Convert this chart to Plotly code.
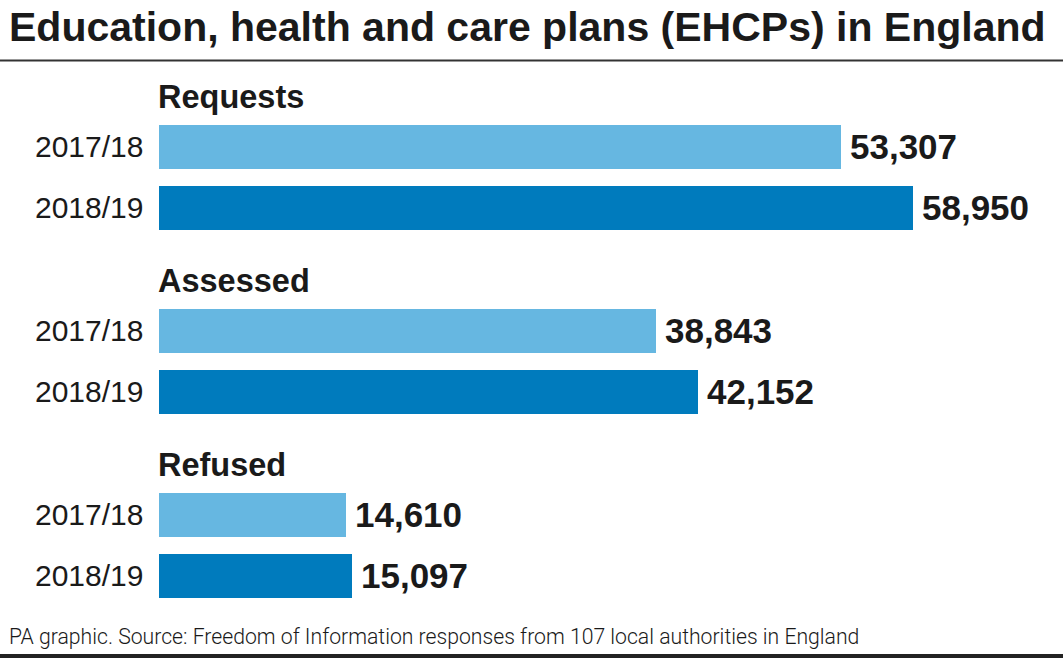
import plotly.graph_objects as go

groups = ["Requests", "Assessed", "Refused"]
years = ["2017/18", "2018/19"]
values = {
    "Requests": [53307, 58950],
    "Assessed": [38843, 42152],
    "Refused": [14610, 15097],
}
year_colors = ["#66b7e1", "#007bbd"]

title = "Education, health and care plans (EHCPs) in England"
source = "PA graphic. Source: Freedom of Information responses from 107 local authorities in England"

W, H = 1063, 658
first_bar = 146.5
group_step = 184
bar_step = 61
bar_h = 44
header_off = 50
xmax = 70680
txt = "#1a1a1a"
font = "Liberation Sans"

fig = go.Figure()
for yi, yr in enumerate(years):
    ys, xs = [], []
    for gi, g in enumerate(groups):
        ys.append(first_bar + gi * group_step + yi * bar_step)
        xs.append(values[g][yi])
    fig.add_trace(go.Bar(
        x=xs, y=ys, orientation="h", width=bar_h,
        marker=dict(color=year_colors[yi], line=dict(width=0)),
        hoverinfo="skip", showlegend=False,
    ))
    for x, y in zip(xs, ys):
        fig.add_annotation(x=x, y=y, text=f"{x:,}", showarrow=False,
                           xanchor="left", yanchor="middle", xshift=7,
                           font=dict(family=font, size=35, color=txt, weight="bold"))
        fig.add_annotation(x=0, y=y, text=yr, showarrow=False,
                           xanchor="right", yanchor="middle", xshift=-14,
                           font=dict(family=font, size=30, color=txt))

for gi, g in enumerate(groups):
    fig.add_annotation(x=0, y=first_bar + gi * group_step - header_off, text=g,
                       showarrow=False, xanchor="left", yanchor="middle", xshift=-3,
                       font=dict(family=font, size=32.5, color=txt, weight="bold"))

fig.add_annotation(xref="paper", yref="paper", x=7 / W, y=1 - 27 / H, text=title,
                   showarrow=False, xanchor="left", yanchor="middle",
                   font=dict(family=font, size=41, color=txt, weight="bold"))
fig.add_annotation(xref="paper", yref="paper", x=7 / W, y=1 - 636 / H, text=source,
                   showarrow=False, xanchor="left", yanchor="middle",
                   font=dict(family="Roboto", size=21.2, color=txt, weight=300))

fig.add_shape(type="line", xref="paper", yref="paper", x0=0, x1=1,
              y0=1 - 60.5 / H, y1=1 - 60.5 / H, line=dict(color="#333333", width=2))
fig.add_shape(type="line", xref="paper", yref="paper", x0=0, x1=1,
              y0=1 - 656 / H, y1=1 - 656 / H, line=dict(color="#222222", width=4))

fig.update_layout(
    width=W, height=H,
    margin=dict(l=0, r=0, t=0, b=0),
    paper_bgcolor="white", plot_bgcolor="white",
    bargap=0,
    xaxis=dict(range=[0, xmax], domain=[159 / W, 1], visible=False, fixedrange=True),
    yaxis=dict(range=[H, 0], visible=False, fixedrange=True),
)

fig.write_html("out.html", config={"displayModeBar": False},
               post_script="document.body.style.margin='0';document.body.style.overflow='hidden';")
